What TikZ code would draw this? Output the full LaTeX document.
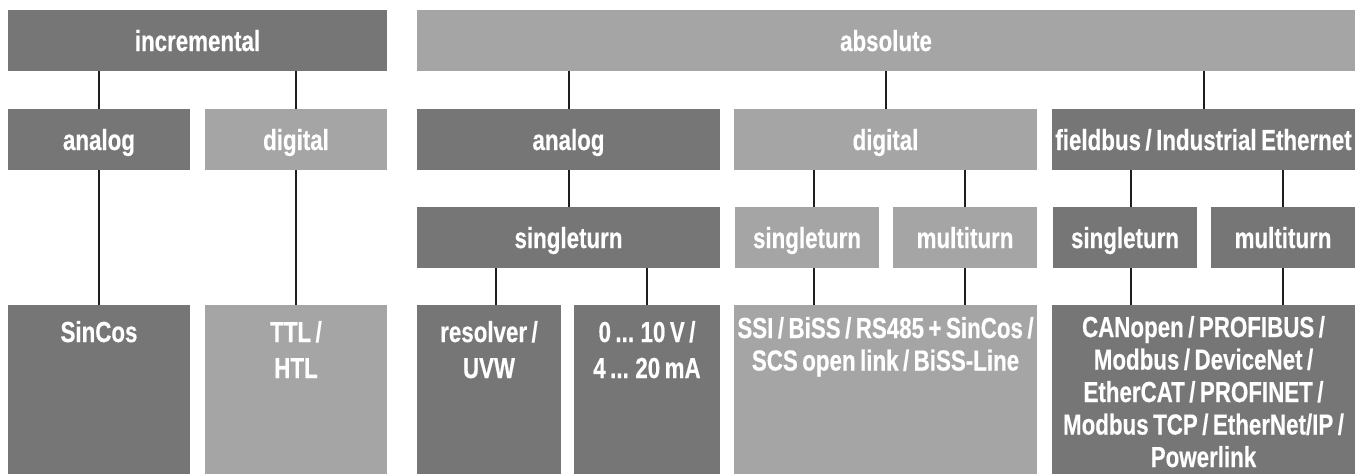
\documentclass[tikz,border=0pt]{standalone}
\usepackage{fontspec}
\setmainfont{Liberation Sans}[FakeStretch=0.77, WordSpace=0.72, BoldFeatures={FakeBold=0.4}]
\definecolor{dk}{HTML}{767676}
\definecolor{lt}{HTML}{A4A5A4}
\definecolor{ln}{HTML}{1E1E1E}
\newcommand\boxfont{\fontsize{29}{36}\selectfont\bfseries}
\newcommand\widefont{\fontsize{29}{32.5}\selectfont\bfseries}
\tikzset{
  box/.style={inner sep=0pt, outer sep=0pt, anchor=north west, text=white, font=\boxfont,
              text height=21pt, text depth=0pt},
  dkbox/.style={box, fill=dk},
  ltbox/.style={box, fill=lt},
  txt/.style={inner sep=0pt, outer sep=0pt, anchor=north, text=white, align=center, font=\boxfont},
  wtxt/.style={txt, font=\widefont},
  conn/.style={draw=ln, line width=2pt},
}
\begin{document}
\begin{tikzpicture}[x=1pt,y=-1pt]
\useasboundingbox (0,0) rectangle (1359,474);
% level 1
\node[dkbox, minimum width=379pt, minimum height=61pt] (inc) at (8,10) {incremental};
\node[ltbox, minimum width=938pt, minimum height=61pt] (abs) at (417,10) {absolute};
% level 2
\node[dkbox, minimum width=182pt, minimum height=61pt] (incA) at (8,109) {analog};
\node[ltbox, minimum width=182pt, minimum height=61pt] (incD) at (205,109) {digital};
\node[dkbox, minimum width=303pt, minimum height=61pt] (absA) at (417,109) {analog};
\node[ltbox, minimum width=303pt, minimum height=61pt] (absD) at (734,109) {digital};
\node[dkbox, minimum width=303pt, minimum height=61pt] (fb) at (1052,109) {fieldbus / Industrial Ethernet};
% level 3
\node[dkbox, minimum width=303pt, minimum height=61pt] (ast) at (417,207) {singleturn};
\node[ltbox, minimum width=144pt, minimum height=61pt] (dst) at (735,207) {singleturn};
\node[ltbox, minimum width=144pt, minimum height=61pt] (dmt) at (893,207) {multiturn};
\node[dkbox, minimum width=144pt, minimum height=61pt] (fst) at (1053,207) {singleturn};
\node[dkbox, minimum width=144pt, minimum height=61pt] (fmt) at (1211,207) {multiturn};
% level 4 boxes
\node[dkbox, minimum width=182pt, minimum height=169pt] (sc) at (8,305) {};
\node[ltbox, minimum width=182pt, minimum height=169pt] (ttl) at (205,305) {};
\node[dkbox, minimum width=144pt, minimum height=169pt] (res) at (417,305) {};
\node[dkbox, minimum width=146pt, minimum height=169pt] (volt) at (574,305) {};
\node[ltbox, minimum width=303pt, minimum height=169pt] (ssi) at (734,305) {};
\node[dkbox, minimum width=303pt, minimum height=169pt] (can) at (1052,305) {};
% level 4 texts
\node[txt] (scT) at ([yshift=-16pt]sc.north) {SinCos};
\node[txt] (ttlT) at ([yshift=-16pt]ttl.north) {TTL /\\HTL};
\node[txt] (resT) at ([yshift=-16pt]res.north) {resolver /\\UVW};
\node[txt] (voltT) at ([yshift=-16pt]volt.north) {0 ... 10 V /\\4 ... 20 mA};
\node[wtxt] (ssiT) at ([yshift=-12pt]ssi.north) {SSI / BiSS / RS485 + SinCos /\\SCS open link / BiSS-Line};
\node[wtxt] (canT) at ([yshift=-11pt]can.north) {CANopen / PROFIBUS /\\Modbus / DeviceNet /\\EtherCAT / PROFINET /\\Modbus TCP / EtherNet/IP /\\Powerlink};
% connectors
\draw[conn] (inc.south -| incA.north) -- (incA.north);
\draw[conn] (inc.south -| incD.north) -- (incD.north);
\draw[conn] (incA.south) -- (sc.north);
\draw[conn] (incD.south) -- (ttl.north);
\draw[conn] (abs.south -| absA.north) -- (absA.north);
\draw[conn] (abs.south -| absD.north) -- (absD.north);
\draw[conn] (abs.south -| fb.north) -- (fb.north);
\draw[conn] (absA.south) -- (ast.north);
\draw[conn] ([xshift=7pt]absD.south -| dst.north) -- ([xshift=7pt]dst.north);
\draw[conn] (absD.south -| dmt.north) -- (dmt.north);
\draw[conn] ([xshift=6pt]fb.south -| fst.north) -- ([xshift=6pt]fst.north);
\draw[conn] (fb.south -| fmt.north) -- (fmt.north);
\draw[conn] ([xshift=7pt]ast.south -| res.north) -- ([xshift=7pt]res.north);
\draw[conn] (ast.south -| volt.north) -- (volt.north);
\draw[conn] ([xshift=7pt]dst.south) -- ([xshift=7pt]dst.south |- ssi.north);
\draw[conn] (dmt.south) -- (dmt.south |- ssi.north);
\draw[conn] ([xshift=6pt]fst.south) -- ([xshift=6pt]fst.south |- can.north);
\draw[conn] (fmt.south) -- (fmt.south |- can.north);
\end{tikzpicture}
\end{document}
